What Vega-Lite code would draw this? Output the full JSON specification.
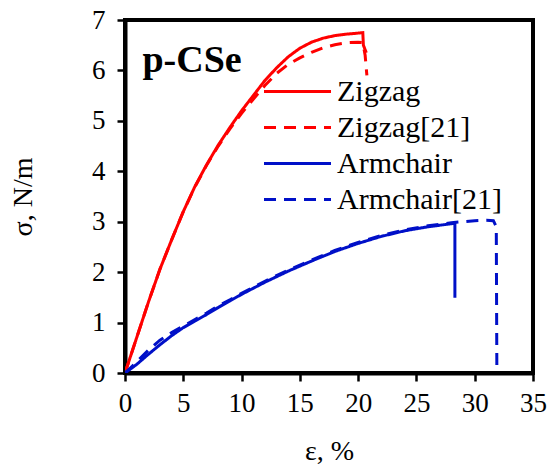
{
  "$schema": "https://vega.github.io/schema/vega-lite/v6.json",
  "width": 408,
  "height": 353,
  "autosize": "none",
  "padding": {"left": 125, "top": 20, "right": 16, "bottom": 97},
  "background": "white",
  "config": {
    "view": {"stroke": "black", "strokeWidth": 4},
    "axis": {
      "labelFont": "Liberation Serif",
      "titleFont": "Liberation Serif",
      "labelColor": "black",
      "titleColor": "black",
      "labelFontSize": 27,
      "titleFontSize": 28,
      "titleFontWeight": "normal",
      "tickColor": "black",
      "tickWidth": 2.5,
      "tickSize": 8,
      "domainColor": "black",
      "domainWidth": 4,
      "grid": false
    }
  },
  "layer": [
    {
      "data": {
        "values": [
          {"s": "Zigzag", "i": 0, "x": 0, "y": 0},
          {"s": "Zigzag", "i": 1, "x": 1, "y": 0.7},
          {"s": "Zigzag", "i": 2, "x": 2, "y": 1.4},
          {"s": "Zigzag", "i": 3, "x": 3, "y": 2.06},
          {"s": "Zigzag", "i": 4, "x": 4, "y": 2.64},
          {"s": "Zigzag", "i": 5, "x": 5, "y": 3.2},
          {"s": "Zigzag", "i": 6, "x": 6, "y": 3.7},
          {"s": "Zigzag", "i": 7, "x": 7, "y": 4.13},
          {"s": "Zigzag", "i": 8, "x": 8, "y": 4.52},
          {"s": "Zigzag", "i": 9, "x": 9, "y": 4.87},
          {"s": "Zigzag", "i": 10, "x": 10, "y": 5.2},
          {"s": "Zigzag", "i": 11, "x": 11, "y": 5.5},
          {"s": "Zigzag", "i": 12, "x": 12, "y": 5.8},
          {"s": "Zigzag", "i": 13, "x": 13, "y": 6.05},
          {"s": "Zigzag", "i": 14, "x": 14, "y": 6.27},
          {"s": "Zigzag", "i": 15, "x": 15, "y": 6.44},
          {"s": "Zigzag", "i": 16, "x": 16, "y": 6.56},
          {"s": "Zigzag", "i": 17, "x": 17, "y": 6.64},
          {"s": "Zigzag", "i": 18, "x": 18, "y": 6.69},
          {"s": "Zigzag", "i": 19, "x": 19, "y": 6.72},
          {"s": "Zigzag", "i": 20, "x": 20, "y": 6.74},
          {"s": "Zigzag", "i": 21, "x": 20.4, "y": 6.75},
          {"s": "Zigzag", "i": 22, "x": 20.45, "y": 6.5},
          {"s": "Zigzag", "i": 23, "x": 20.7, "y": 6.35},
          {"s": "Zigzag[21]", "i": 0, "x": 0, "y": 0},
          {"s": "Zigzag[21]", "i": 1, "x": 1, "y": 0.7},
          {"s": "Zigzag[21]", "i": 2, "x": 2, "y": 1.4},
          {"s": "Zigzag[21]", "i": 3, "x": 3, "y": 2.06},
          {"s": "Zigzag[21]", "i": 4, "x": 4, "y": 2.64},
          {"s": "Zigzag[21]", "i": 5, "x": 5, "y": 3.2},
          {"s": "Zigzag[21]", "i": 6, "x": 6, "y": 3.69},
          {"s": "Zigzag[21]", "i": 7, "x": 7, "y": 4.12},
          {"s": "Zigzag[21]", "i": 8, "x": 8, "y": 4.5},
          {"s": "Zigzag[21]", "i": 9, "x": 9, "y": 4.84},
          {"s": "Zigzag[21]", "i": 10, "x": 10, "y": 5.15},
          {"s": "Zigzag[21]", "i": 11, "x": 11, "y": 5.43},
          {"s": "Zigzag[21]", "i": 12, "x": 12, "y": 5.7},
          {"s": "Zigzag[21]", "i": 13, "x": 13, "y": 5.94},
          {"s": "Zigzag[21]", "i": 14, "x": 14, "y": 6.12},
          {"s": "Zigzag[21]", "i": 15, "x": 15, "y": 6.25},
          {"s": "Zigzag[21]", "i": 16, "x": 16, "y": 6.36},
          {"s": "Zigzag[21]", "i": 17, "x": 17, "y": 6.45},
          {"s": "Zigzag[21]", "i": 18, "x": 18, "y": 6.51},
          {"s": "Zigzag[21]", "i": 19, "x": 19, "y": 6.55},
          {"s": "Zigzag[21]", "i": 20, "x": 20, "y": 6.56},
          {"s": "Zigzag[21]", "i": 21, "x": 20.4, "y": 6.55},
          {"s": "Zigzag[21]", "i": 22, "x": 20.6, "y": 6.3},
          {"s": "Zigzag[21]", "i": 23, "x": 20.75, "y": 5.9},
          {"s": "Armchair", "i": 0, "x": 0, "y": 0},
          {"s": "Armchair", "i": 1, "x": 1, "y": 0.17},
          {"s": "Armchair", "i": 2, "x": 2, "y": 0.37},
          {"s": "Armchair", "i": 3, "x": 3, "y": 0.56},
          {"s": "Armchair", "i": 4, "x": 4, "y": 0.74},
          {"s": "Armchair", "i": 5, "x": 5, "y": 0.9},
          {"s": "Armchair", "i": 6, "x": 6, "y": 1.03},
          {"s": "Armchair", "i": 7, "x": 7, "y": 1.16},
          {"s": "Armchair", "i": 8, "x": 8, "y": 1.3},
          {"s": "Armchair", "i": 9, "x": 9, "y": 1.43},
          {"s": "Armchair", "i": 10, "x": 10, "y": 1.56},
          {"s": "Armchair", "i": 11, "x": 12, "y": 1.8},
          {"s": "Armchair", "i": 12, "x": 14, "y": 2.02},
          {"s": "Armchair", "i": 13, "x": 16, "y": 2.22},
          {"s": "Armchair", "i": 14, "x": 18, "y": 2.41},
          {"s": "Armchair", "i": 15, "x": 20, "y": 2.57},
          {"s": "Armchair", "i": 16, "x": 22, "y": 2.71},
          {"s": "Armchair", "i": 17, "x": 24, "y": 2.82},
          {"s": "Armchair", "i": 18, "x": 26, "y": 2.9},
          {"s": "Armchair", "i": 19, "x": 28, "y": 2.96},
          {"s": "Armchair", "i": 20, "x": 28.3, "y": 2.97},
          {"s": "Armchair", "i": 21, "x": 28.3, "y": 1.49},
          {"s": "Armchair[21]", "i": 0, "x": 0, "y": 0},
          {"s": "Armchair[21]", "i": 1, "x": 1, "y": 0.22},
          {"s": "Armchair[21]", "i": 2, "x": 2, "y": 0.45},
          {"s": "Armchair[21]", "i": 3, "x": 3, "y": 0.65},
          {"s": "Armchair[21]", "i": 4, "x": 4, "y": 0.8},
          {"s": "Armchair[21]", "i": 5, "x": 5, "y": 0.93},
          {"s": "Armchair[21]", "i": 6, "x": 6, "y": 1.06},
          {"s": "Armchair[21]", "i": 7, "x": 7, "y": 1.19},
          {"s": "Armchair[21]", "i": 8, "x": 8, "y": 1.33},
          {"s": "Armchair[21]", "i": 9, "x": 9, "y": 1.45},
          {"s": "Armchair[21]", "i": 10, "x": 10, "y": 1.58},
          {"s": "Armchair[21]", "i": 11, "x": 12, "y": 1.82},
          {"s": "Armchair[21]", "i": 12, "x": 14, "y": 2.04},
          {"s": "Armchair[21]", "i": 13, "x": 16, "y": 2.24},
          {"s": "Armchair[21]", "i": 14, "x": 18, "y": 2.43},
          {"s": "Armchair[21]", "i": 15, "x": 20, "y": 2.59},
          {"s": "Armchair[21]", "i": 16, "x": 22, "y": 2.73},
          {"s": "Armchair[21]", "i": 17, "x": 24, "y": 2.84},
          {"s": "Armchair[21]", "i": 18, "x": 26, "y": 2.92},
          {"s": "Armchair[21]", "i": 19, "x": 28, "y": 2.98},
          {"s": "Armchair[21]", "i": 20, "x": 29, "y": 3.0},
          {"s": "Armchair[21]", "i": 21, "x": 30, "y": 3.02},
          {"s": "Armchair[21]", "i": 22, "x": 31, "y": 3.03},
          {"s": "Armchair[21]", "i": 23, "x": 31.6, "y": 3.02},
          {"s": "Armchair[21]", "i": 24, "x": 31.85, "y": 2.9},
          {"s": "Armchair[21]", "i": 25, "x": 31.9, "y": 0}
        ]
      },
      "mark": {"type": "line", "strokeWidth": 3, "clip": true},
      "encoding": {
        "x": {
          "field": "x",
          "type": "quantitative",
          "scale": {"domain": [0, 35], "nice": false, "zero": false},
          "axis": {
            "title": "ε, %",
            "values": [0, 2.5, 5, 7.5, 10, 12.5, 15, 17.5, 20, 22.5, 25, 27.5, 30, 32.5, 35],
            "labelExpr": "datum.value % 5 == 0 ? format(datum.value, 'd') : ''",
            "labelPadding": 9,
            "titlePadding": 21,
            "labelFlush": false,
            "labelOverlap": false
          }
        },
        "y": {
          "field": "y",
          "type": "quantitative",
          "scale": {"domain": [0, 7], "nice": false, "zero": false},
          "axis": {
            "title": "σ, N/m",
            "values": [0, 0.5, 1, 1.5, 2, 2.5, 3, 3.5, 4, 4.5, 5, 5.5, 6, 6.5, 7],
            "labelExpr": "datum.value % 1 == 0 ? format(datum.value, 'd') : ''",
            "labelPadding": 12,
            "titlePadding": 54,
            "labelFlush": false,
            "labelOverlap": false
          }
        },
        "order": {"field": "i", "type": "quantitative"},
        "color": {
          "field": "s",
          "type": "nominal",
          "scale": {
            "domain": ["Zigzag", "Zigzag[21]", "Armchair", "Armchair[21]"],
            "range": ["#ff0000", "#ff0000", "#0010c8", "#0010c8"]
          },
          "legend": {
            "title": null,
            "orient": "none",
            "legendX": 154,
            "legendY": 53,
            "symbolType": "M-2,0H2",
            "symbolSize": 1122,
            "symbolStrokeWidth": 3,
            "labelFont": "Liberation Serif",
            "labelFontSize": 30,
            "labelColor": "black",
            "labelOffset": 21,
            "rowPadding": 2,
            "labelLimit": 300
          }
        },
        "strokeDash": {
          "field": "s",
          "type": "nominal",
          "scale": {
            "domain": ["Zigzag", "Zigzag[21]", "Armchair", "Armchair[21]"],
            "range": [[1, 0], [12, 8], [1, 0], [12, 8]]
          },
          "legend": null
        }
      }
    },
    {
      "data": {"values": [{"label": "p-CSe"}]},
      "mark": {
        "type": "text",
        "font": "Liberation Serif",
        "fontSize": 38,
        "fontWeight": "bold",
        "color": "black",
        "align": "left",
        "baseline": "alphabetic"
      },
      "encoding": {
        "x": {"datum": 1.5},
        "y": {"datum": 5.97},
        "text": {"field": "label"}
      }
    }
  ]
}
